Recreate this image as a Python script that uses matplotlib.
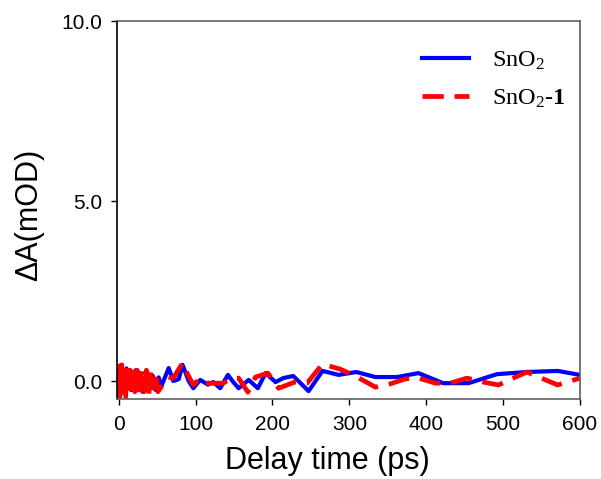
import matplotlib
matplotlib.use('Agg')
import matplotlib.pyplot as plt
from matplotlib.lines import Line2D

# delay times (ps) and signals (mOD)
t_sno2 = [0, 1, 2, 3, 4, 6, 8, 10, 12, 14, 16, 18, 20, 22, 25, 28, 31, 34, 37, 40,
          44, 48, 52, 55, 65, 71, 78, 83, 91, 97, 106, 116, 123, 132, 142, 149, 156,
          169, 181, 191, 204, 214, 227, 247, 265, 286, 309, 334, 362, 390, 422, 455,
          492, 531, 571, 600]
a_sno2 = [-0.3, 0.3, -0.4, 0.2, 0.0, -0.2, 0.1, 0.35, -0.1, 0.2, -0.25, 0.1, -0.2, 0.3,
          -0.15, 0.2, -0.3, 0.0, 0.25, -0.2, 0.15, -0.25, 0.1, -0.17, 0.36, 0.0, 0.05,
          0.45, 0.0, -0.2, 0.03, -0.1, -0.03, -0.2, 0.17, -0.03, -0.2, 0.03, -0.2, 0.22,
          -0.03, 0.08, 0.14, -0.28, 0.28, 0.17, 0.25, 0.11, 0.11, 0.22, -0.06, -0.06,
          0.19, 0.25, 0.28, 0.17]

t_sno2_1 = [0, 1, 2, 3, 4, 5, 7, 9, 11, 13, 15, 17, 19, 21, 24, 27, 30, 33, 36, 39,
            42, 45, 48, 51, 54, 64, 71, 83, 90, 97, 106, 116, 123, 136, 145, 156, 168,
            178, 194, 208, 229, 245, 265, 288, 305, 334, 353, 373, 390, 412, 431, 453,
            474, 494, 513, 531, 552, 571, 600]
a_sno2_1 = [0.0, -0.5, 0.5, -0.4, 0.45, -0.3, 0.3, -0.45, 0.4, -0.2, 0.3, -0.35, 0.35,
            -0.3, 0.3, -0.4, 0.35, -0.3, 0.3, -0.4, 0.3, -0.2, 0.25, -0.3, -0.2, 0.11,
            0.08, 0.5, 0.17, -0.11, 0.08, -0.06, -0.06, -0.06, 0.06, 0.08, -0.31, 0.11,
            0.22, -0.2, -0.03, -0.06, 0.47, 0.33, 0.17, -0.17, -0.08, 0.06, 0.08, -0.06,
            -0.06, 0.08, -0.03, -0.11, 0.08, 0.25, 0.06, -0.11, 0.08]

xticks = [0, 100, 200, 300, 400, 500, 600]
yticks = [0.0, 5.0, 10.0]

plt.rcParams['mathtext.fontset'] = 'custom'
plt.rcParams['mathtext.rm'] = 'Liberation Serif'
plt.rcParams['mathtext.bf'] = 'Liberation Serif:bold'
plt.rcParams['mathtext.it'] = 'Liberation Serif:italic'

fig = plt.figure(figsize=(6.01, 4.79), dpi=100)
ax = fig.add_axes([0.195, 0.167, 0.77, 0.789])

ax.plot(t_sno2, a_sno2, color='#0000ff', lw=3.0, solid_joinstyle='round')
ax.plot(t_sno2_1, a_sno2_1, color='#ff0000', lw=3.4, dashes=(4.5, 2.3))

ax.set_xlim(-2, 600)
ax.set_ylim(-0.5, 10.0)
ax.set_xticks(xticks)
ax.set_yticks(yticks)
ax.set_yticklabels([f'{v:.1f}' for v in yticks])
ax.tick_params(direction='out', length=4, width=1, labelsize=15, colors='black')
ax.tick_params(axis='x', pad=7.5)
ax.tick_params(axis='y', pad=7)
for lab in ax.get_xticklabels() + ax.get_yticklabels():
    lab.set_fontfamily('Liberation Sans')

ax.spines['left'].set_color('black')
for s in ['top', 'right', 'bottom']:
    ax.spines[s].set_color('#606060')
for s in ax.spines.values():
    s.set_linewidth(1.2)

ax.set_xlabel('Delay time (ps)', fontsize=22, family='Liberation Sans')
ax.set_ylabel('\u0394A(mOD)', fontsize=22, family='Liberation Sans')
ax.xaxis.set_label_coords(0.455, -0.164, transform=ax.transAxes)
ax.yaxis.set_label_coords(-0.19, 0.487, transform=ax.transAxes)
ax.xaxis.label.set_va('center')
ax.yaxis.label.set_va('center')

handles = [Line2D([], [], color='#0000ff', lw=3.0),
           Line2D([], [], color='#ff0000', lw=3.4, dashes=(4.5, 2.3))]
labels = [r'SnO$_2$', r'SnO$_2$-$\mathbf{1}$']
ax.legend(handles, labels, loc='upper right', bbox_to_anchor=(0.99, 0.951),
          frameon=False, handlelength=1.95, handletextpad=0.95, labelspacing=0.67,
          borderaxespad=0, prop={'family': 'Liberation Serif', 'size': 17.5})

fig.savefig('out.png', dpi=100)
